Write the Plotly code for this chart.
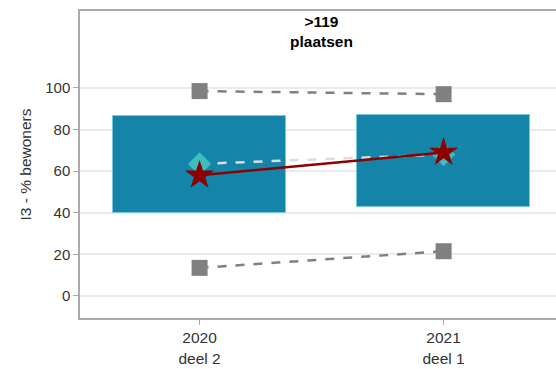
import plotly.graph_objects as go

categories = ["2020<br>deel 2", "2021<br>deel 1"]
xpos = [0, 1]
box_low = [40, 43]
box_high = [86.5, 87]
upper = [98.5, 97]
lower = [13.5, 21.5]
diamond_vals = [63.5, 68]
star_vals = [58, 69]

fig = go.Figure()
fig.add_trace(go.Bar(
    x=xpos, y=[h - l for h, l in zip(box_high, box_low)], base=box_low,
    width=0.71, marker=dict(color="#1484A8", line=dict(color="#7CC6DC", width=1)),
    hoverinfo="skip", showlegend=False))
fig.add_trace(go.Scatter(
    x=xpos, y=upper, mode="lines+markers",
    line=dict(color="#808080", width=2.5, dash="dash"),
    marker=dict(symbol="square", size=16, color="#808080"), showlegend=False))
fig.add_trace(go.Scatter(
    x=xpos, y=lower, mode="lines+markers",
    line=dict(color="#808080", width=2.5, dash="dash"),
    marker=dict(symbol="square", size=16, color="#808080"), showlegend=False))
fig.add_trace(go.Scatter(
    x=xpos, y=diamond_vals, mode="lines+markers",
    line=dict(color="#DDDDDD", width=2.5, dash="dash"),
    marker=dict(symbol="diamond", size=18, color="#3DBDBD"), showlegend=False))
fig.add_trace(go.Scatter(
    x=xpos, y=star_vals, mode="lines+markers",
    line=dict(color="#8B0000", width=2.5),
    marker=dict(symbol="star", size=22, color="#8B0000"), showlegend=False))

fig.add_annotation(x=0.5, xref="x", y=1.0, yref="paper", yanchor="top",
                   text="<b>&gt;119<br>plaatsen</b>", showarrow=False,
                   font=dict(size=15.5, color="#000000"), yshift=0)

fig.update_layout(
    width=570, height=369,
    margin=dict(l=80, r=0, t=11, b=51),
    plot_bgcolor="white", paper_bgcolor="white",
    font=dict(family="Liberation Sans, Arial, sans-serif", size=15, color="#333333"),
    xaxis=dict(range=[-0.49, 1.518], tickvals=xpos, ticktext=categories,
               showline=True, linecolor="#AAAAAA", linewidth=1.5, mirror=True,
               ticks="outside", ticklen=5, tickcolor="#AAAAAA",
               showgrid=False, zeroline=False, tickfont=dict(size=15.5)),
    yaxis=dict(range=[-10.6, 137], tickvals=[0, 20, 40, 60, 80, 100],
               showline=True, linecolor="#AAAAAA", linewidth=1.5, mirror=False,
               ticks="outside", ticklen=5, tickcolor="#AAAAAA",
               showgrid=True, gridcolor="#EBEBEB", gridwidth=1.5, zeroline=False,
               title=dict(text="I3 - % bewoners", font=dict(size=15.5), standoff=10),
               tickfont=dict(size=15)),
    bargap=0,
)

fig.write_html("out.html", config={"displayModeBar": False},
               post_script="document.documentElement.style.overflow='hidden';document.body.style.margin='0';document.body.style.overflow='hidden';")
